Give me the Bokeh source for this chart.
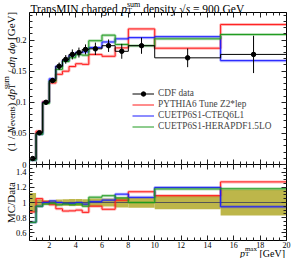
import numpy as np
from math import pi
from bokeh.plotting import figure
from bokeh.models import (Range1d, LinearAxis, FixedTicker, CustomJSTickFormatter,
                          Label, Legend, LegendItem)
from bokeh.embed import file_html
from bokeh.resources import INLINE

# ---------------- data ----------------
bin_edges = [0.5, 1.0, 1.5, 2.0, 2.5, 3.0, 3.5, 4.0, 4.5, 5.0, 6.0, 7.0, 8.0, 10.0, 15.0, 20.0]
cdf_data = [0.0096, 0.051, 0.100, 0.135, 0.158, 0.169, 0.177, 0.180, 0.185,
            0.186, 0.191, 0.182, 0.191, 0.1715, 0.177]
cdf_err = [0.0012, 0.002, 0.003, 0.004, 0.006, 0.007, 0.008, 0.008, 0.008,
           0.010, 0.010, 0.012, 0.013, 0.015, 0.030]
pythia6_z2lep = [0.0084, 0.0536, 0.101, 0.131, 0.145, 0.150, 0.1575, 0.162, 0.161,
                 0.177, 0.174, 0.1875, 0.218, 0.187, 0.225]
cuetp6s1_cteq6l1 = [0.0071, 0.0485, 0.100, 0.1377, 0.158, 0.167, 0.175, 0.180, 0.181,
                    0.188, 0.197, 0.202, 0.204, 0.2055, 0.167]
cuetp6s1_herapdf = [0.0071, 0.0485, 0.098, 0.1337, 0.153, 0.1656, 0.1717, 0.1764, 0.1758,
                    0.199, 0.208, 0.193, 0.191, 0.202, 0.209]

x_major_ticks = [2, 4, 6, 8, 10, 12, 14, 16, 18, 20]
x_minor_ticks = [round(v, 2) for v in np.arange(0.5, 20.01, 0.5)]
top_major_ticks = [0, 0.05, 0.1, 0.15, 0.2]
top_minor_ticks = [round(v, 3) for v in np.arange(0, 0.2401, 0.01)]
ratio_major_ticks = [0.6, 0.8, 1.0, 1.2, 1.4]
ratio_minor_ticks = [round(v, 3) for v in np.arange(0.5, 1.5001, 0.05)]

legend_labels = ["CDF data", "PYTHIA6 Tune Z2*lep", "CUETP6S1-CTEQ6L1", "CUETP6S1-HERAPDF1.5LO"]

# ---------------- geometry (figure pixels) ----------------
FONT = "Liberation Serif"
FIG_W, FIG_H = 292, 258
PL, PR = 29, 286          # panel left / right
PT, PB, RB = 12, 164, 240  # top-panel top, panel boundary, ratio bottom
X0, X1 = 0.5, 20.0
TOP_MAX = 0.2444
R0, R1 = 0.5, 1.5

kx = (PR - PL) / (X1 - X0)
sy = (PB - PT) / TOP_MAX
sr = (RB - PB) / (R1 - R0)
x_range = Range1d(X0 - PL / kx, X1 + (FIG_W - PR) / kx)
y_range = Range1d(-(FIG_H - PB) / sy, TOP_MAX + PT / sy)
ratio_range = Range1d(R0 - (FIG_H - RB) / sr, R1 + PB / sr)
main_bottom = -(RB - PB) / sy

p = figure(width=FIG_W, height=FIG_H, x_range=x_range, y_range=y_range,
           x_axis_type=None, y_axis_type=None, output_backend="svg", toolbar_location=None,
           min_border=0)
p.extra_y_ranges = {"ratio": ratio_range}
p.outline_line_color = None
p.background_fill_color = "white"
p.border_fill_color = "white"

fmt = CustomJSTickFormatter(code="return String(Math.round(tick*1000)/1000);")
blank = CustomJSTickFormatter(code="return '';")
AX = dict(axis_line_color="black", axis_line_width=1,
          major_tick_line_color="#222222", minor_tick_line_color="#222222",
          major_label_text_font=FONT, major_label_text_font_size="8.5px",
          major_label_text_color="black")
TK_IN = dict(major_tick_in=5, major_tick_out=0, minor_tick_in=3, minor_tick_out=0)

xt = lambda: FixedTicker(ticks=x_major_ticks, minor_ticks=x_minor_ticks)
tt = lambda: FixedTicker(ticks=top_major_ticks, minor_ticks=top_minor_ticks)
rt = lambda: FixedTicker(ticks=ratio_major_ticks, minor_ticks=ratio_minor_ticks)

# horizontal axes
AXB = dict(AX)
AXB["major_label_text_font_size"] = "8px"
p.add_layout(LinearAxis(ticker=xt(), formatter=fmt, fixed_location=main_bottom, bounds=(X0, X1),
                        major_label_standoff=1, **TK_IN, **AXB), "below")
p.add_layout(LinearAxis(ticker=xt(), formatter=blank, fixed_location=0, bounds=(X0, X1),
                        major_tick_in=5, major_tick_out=5, minor_tick_in=3, minor_tick_out=3,
                        **AX), "below")
p.add_layout(LinearAxis(ticker=xt(), formatter=blank, fixed_location=TOP_MAX, bounds=(X0, X1),
                        **TK_IN, **AX), "above")
# vertical axes
p.add_layout(LinearAxis(ticker=tt(), formatter=fmt, fixed_location=X0, bounds=(0, TOP_MAX),
                        major_label_standoff=3, **TK_IN, **AX), "left")
p.add_layout(LinearAxis(ticker=rt(), formatter=fmt, fixed_location=X0, bounds=(R0, R1),
                        y_range_name="ratio", major_label_standoff=3, **TK_IN, **AX), "left")
p.add_layout(LinearAxis(ticker=tt(), formatter=blank, fixed_location=X1, bounds=(0, TOP_MAX),
                        **TK_IN, **AX), "right")
p.add_layout(LinearAxis(ticker=rt(), formatter=blank, fixed_location=X1, bounds=(R0, R1),
                        y_range_name="ratio", **TK_IN, **AX), "right")

# ---------------- glyphs ----------------
edges = np.array(bin_edges)
centers = 0.5 * (edges[:-1] + edges[1:])
data = np.array(cdf_data)
err = np.array(cdf_err)
rel = err / data

def ext(v):
    v = np.asarray(v, dtype=float)
    return np.append(v, v[-1])

BAND = "#bdb64a"
p.quad(left=edges[:-1], right=edges[1:], bottom=1 - rel, top=1 + rel, fill_color=BAND,
       line_color=None, y_range_name="ratio", level="underlay")
p.step(x=edges, y=ext(np.ones_like(data)), mode="after", line_color="#555555",
       line_width=1, y_range_name="ratio")

mc = [(pythia6_z2lep, "#ff1a1a"), (cuetp6s1_cteq6l1, "#1a1aff"), (cuetp6s1_herapdf, "#1f9a1f")]
mc_renderers = []
for vals, col in mc:
    v = np.array(vals)
    p.step(x=edges, y=ext(v), mode="after", line_color=col, line_width=3, line_alpha=0.3)
    r = p.step(x=edges, y=ext(v), mode="after", line_color=col, line_width=1)
    mc_renderers.append(r)
    p.step(x=edges, y=ext(v / data), mode="after", line_color=col, line_width=3,
           line_alpha=0.3, y_range_name="ratio")
    p.step(x=edges, y=ext(v / data), mode="after", line_color=col, line_width=1,
           y_range_name="ratio")

data_line = p.step(x=edges, y=ext(data), mode="after", line_color="black", line_width=1)
p.segment(x0=centers, y0=data - err, x1=centers, y1=data + err, line_color="black", line_width=1)
data_pts = p.scatter(x=centers, y=data, size=4.5, marker="circle", fill_color="black",
                     line_color="black")

# page pixel -> frame screen units
def sx(page_x):
    return page_x - 8

def sy_(page_y):
    return FIG_H - (page_y - 8)

legend = Legend(items=[LegendItem(label=legend_labels[0], renderers=[data_line, data_pts])] +
                      [LegendItem(label=legend_labels[i + 1], renderers=[mc_renderers[i]])
                       for i in range(3)],
                location=(sx(140), sy_(139.8)), border_line_alpha=0, background_fill_alpha=0,
                padding=0, margin=0, spacing=0, glyph_width=22, glyph_height=11,
                label_height=11, label_standoff=4, label_text_font=FONT,
                label_text_font_size="9.3px", label_text_baseline="middle")
p.add_layout(legend)

# ---------------- composed texts ----------------
WID = {' ': 250, '(': 333, ')': 333, '/': 278, '[': 333, ']': 333, '=': 564, '*': 500,
       '-': 333, '.': 250, '√': 549, 'η': 500, 'φ': 521,
       'A': 722, 'C': 667, 'D': 722, 'E': 611, 'F': 556, 'G': 722, 'H': 722, 'I': 333,
       'L': 611, 'M': 889, 'N': 722, 'O': 722, 'P': 556, 'R': 667, 'S': 556, 'T': 611,
       'U': 722, 'V': 722, 'Z': 611,
       'a': 444, 'b': 500, 'c': 444, 'd': 500, 'e': 444, 'g': 500, 'h': 500, 'i': 278,
       'l': 278, 'm': 778, 'n': 500, 'o': 500, 'p': 500, 'r': 333, 's': 389, 't': 278,
       'u': 500, 'v': 500, 'x': 500, 'y': 500}
WID_IT = {'N': 667, 'a': 500, 'm': 722, 'T': 556}
for d in "0123456789":
    WID[d] = 500

def tw(s, size, italic=False):
    return sum((WID_IT.get(c) if italic and c in WID_IT else WID.get(c, 500)) for c in s) / 1000 * size

def add_text(text, x, y, size, italic=False, angle=0.0):
    p.add_layout(Label(x=x, y=y, x_units="screen", y_units="screen", text=text, angle=angle,
                       text_font=FONT, text_font_size=f"{size}px",
                       text_font_style="italic" if italic else "normal",
                       text_align="left", text_baseline="alphabetic", text_color="black"))

def group_width(pieces, size):
    return sum(max(tw(t, size * rs, it) for t, it, rs, sh in grp) for grp in pieces)

def compose(pieces, x0, y0, size, rotated=False):
    cur = 0.0
    for grp in pieces:
        adv = 0.0
        for t, it, rs, sh in grp:
            fs = round(size * rs, 2)
            off = sh * size
            lead = tw(t[:len(t) - len(t.lstrip(' '))], fs, it)
            s = t.strip(' ')
            if s:
                if rotated:
                    add_text(s, x0 - off, y0 + cur + lead, fs, it, angle=pi / 2)
                else:
                    add_text(s, x0 + cur + lead, y0 + off, fs, it)
            adv = max(adv, tw(t, fs, it))
        cur += adv

SUB, SUP, SS = -0.2, 0.38, 0.7
title_pieces = [[("TransMIN charged ", False, 1, 0)], [("p", True, 1, 0)],
                [("T", False, SS, SUB), ("sum", False, SS, SUP)],
                [(" density ", False, 1, 0)], [("√", False, 1, 0)], [("s", True, 1, 0)],
                [(" = 900 GeV", False, 1, 0)]]
compose(title_pieces, sx(38), sy_(16.5), 11.5)

ylab_pieces = [[("(1 / ", False, 1, 0)], [("N", True, 1, 0)], [("events", False, SS, SUB)],
               [(") ", False, 1, 0)], [("dp", True, 1, 0)],
               [("T", False, SS, SUB), ("sum", False, SS, SUP)],
               [(" / ", False, 1, 0)], [("dη", True, 1, 0)], [(" ", False, 1, 0)],
               [("dφ", True, 1, 0)], [(" [GeV]", False, 1, 0)]]
YS = 11
ytot = group_width(ylab_pieces, YS)
compose(ylab_pieces, sx(18), sy_(89) - ytot / 2, YS, rotated=True)

rl = "MC/Data"
add_text(rl, sx(18.5), sy_(210) - tw(rl, 11) / 2, 11, angle=pi / 2)

xlab_pieces = [[("p", True, 1, 0)], [("T", False, SS, -0.12), ("max", False, SS, 0.36)],
               [(" [GeV]", False, 1, 0)]]
XS = 10
xtot = group_width(xlab_pieces, XS)
compose(xlab_pieces, sx(292.5) - xtot, sy_(260.5), XS)

open("out.html", "w").write(file_html(p, INLINE))
